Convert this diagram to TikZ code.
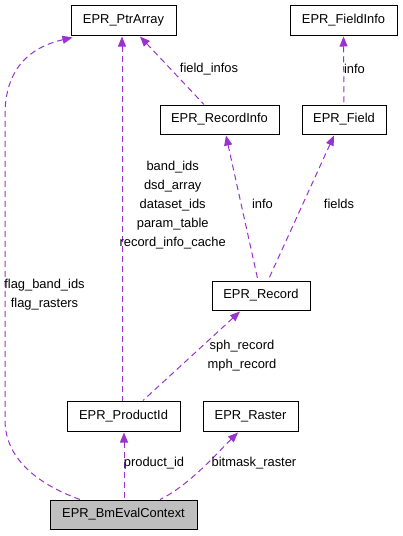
\documentclass[tikz,border=0pt]{standalone}
\usepackage{fontspec}
\setmainfont{Liberation Sans}
\usetikzlibrary{arrows.meta}
\definecolor{edgec}{HTML}{9A32CD}
\definecolor{ctxfill}{HTML}{BFBFBF}
\tikzset{
  cls/.style={draw=black, line width=1pt, inner sep=0pt, font=\fontsize{12.9}{15}\selectfont, text height=9.3pt, text depth=2.6pt},
  rel/.style={draw=edgec, line width=1pt, dash pattern=on 6pt off 4pt, {Triangle[length=10pt,width=8pt,fill=edgec]}-},
  lbl/.style={font=\fontsize{12.9}{19}\selectfont, align=center, inner sep=0pt}
}
\begin{document}
\begin{tikzpicture}[x=1pt,y=-1pt]
\useasboundingbox (0,0) rectangle (403,536);
\node[cls, minimum width=105pt, minimum height=30pt] (ptr) at (123.5,20) {EPR\_PtrArray};
\node[cls, minimum width=107pt, minimum height=30pt] (finfo) at (343.5,20) {EPR\_FieldInfo};
\node[cls, minimum width=119pt, minimum height=29pt] (rinfo) at (219.5,119.5) {EPR\_RecordInfo};
\node[cls, minimum width=84pt, minimum height=29pt] (field) at (344,119.5) {EPR\_Field};
\node[cls, minimum width=98pt, minimum height=29pt] (rec) at (261,295.5) {EPR\_Record};
\node[cls, minimum width=113pt, minimum height=30pt] (prod) at (123.5,416) {EPR\_ProductId};
\node[cls, minimum width=95pt, minimum height=30pt] (rast) at (250.5,416) {EPR\_Raster};
\node[cls, fill=ctxfill, minimum width=147pt, minimum height=29pt] (ctx) at (123.5,514.5) {EPR\_BmEvalContext};

% edges (arrow at the pointed-to class)
\draw[rel] ([xshift=-51pt,yshift=-2pt]ptr.south) .. controls (40,45) and (5,60) .. (5,115) -- (5,420) .. controls (5,460) and (40,485) .. ([xshift=-43.5pt]ctx.north);
\draw[rel] ([xshift=-1.5pt,yshift=-1pt]ptr.south) -- ([xshift=-1.5pt]prod.north);
\draw[rel] ([xshift=16.5pt,yshift=-1pt]ptr.south) -- ([xshift=-15.5pt]rinfo.north);
\draw[rel] ([yshift=-1pt]finfo.south) -- (field.north);
\draw[rel] ([xshift=6.5pt,yshift=-1pt]rinfo.south) -- ([xshift=-3pt]rec.north);
\draw[rel] ([xshift=-10pt,yshift=-1pt]field.south) -- ([xshift=7pt]rec.north);
\draw[rel] ([xshift=-21pt,yshift=-1pt]rec.south) -- ([xshift=19.5pt]prod.north);
\draw[rel] ([xshift=0.5pt,yshift=-1pt]prod.south) -- ([xshift=0.5pt]ctx.north);
\draw[rel] ([xshift=-12.5pt,yshift=-1pt]rast.south) .. controls (220,450) and (190,485) .. ([xshift=36.5pt]ctx.north);

% labels
\node[lbl] (l1) at (44.5,294.5) {flag\_band\_ids\\flag\_rasters};
\node[lbl] (l2) at (172.7,205) {band\_ids\\dsd\_array\\dataset\_ids\\param\_table\\record\_info\_cache};
\node[lbl] (l3) at (209,69) {field\_infos};
\node[lbl] (l4) at (354.5,69) {info};
\node[lbl] (l5) at (262.5,204) {info};
\node[lbl] (l6) at (339,204) {fields};
\node[lbl] (l7) at (242,356) {sph\_record\\mph\_record};
\node[lbl] (l8) at (154,463) {product\_id};
\node[lbl] (l9) at (254,463) {bitmask\_raster};
\end{tikzpicture}
\end{document}
